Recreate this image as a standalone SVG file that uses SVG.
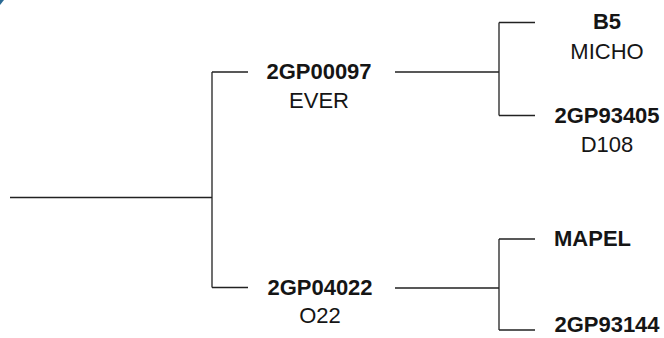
<svg xmlns="http://www.w3.org/2000/svg" width="664" height="338" viewBox="0 0 664 338">
<style>
.e{fill:none;stroke:#222;stroke-width:1.3}
text{font-family:"Liberation Sans",Arial,sans-serif;font-size:22px;fill:#151515;text-anchor:middle}
.b{font-weight:bold}
</style>
<rect width="664" height="338" fill="#fff"/>
<path d="M0 0H4L0 5Z" fill="#2b6a94"/>
<g id="connectors">
<path class="e" d="M10 197.5H212M212 72V287.5M212 72H248M212 287.5H248"/>
<path class="e" d="M395 72H499M499 22.5V115.5M499 22.5H535M499 115.5H535"/>
<path class="e" d="M395 288H499M499 239V330M499 239H535M499 330H535"/>
</g>
<g id="n1"><text class="b" x="319" y="79">2GP00097</text><text x="319" y="108">EVER</text></g>
<g id="n2"><text class="b" x="320" y="295">2GP04022</text><text x="320" y="323">O22</text></g>
<g id="n3"><text class="b" x="607" y="29">B5</text><text x="607" y="59">MICHO</text></g>
<g id="n4"><text class="b" x="607" y="123">2GP93405</text><text x="607" y="152">D108</text></g>
<g id="n5"><text class="b" x="554" y="246" style="text-anchor:start">MAPEL</text></g>
<g id="n6"><text class="b" x="607" y="332">2GP93144</text></g>
</svg>
